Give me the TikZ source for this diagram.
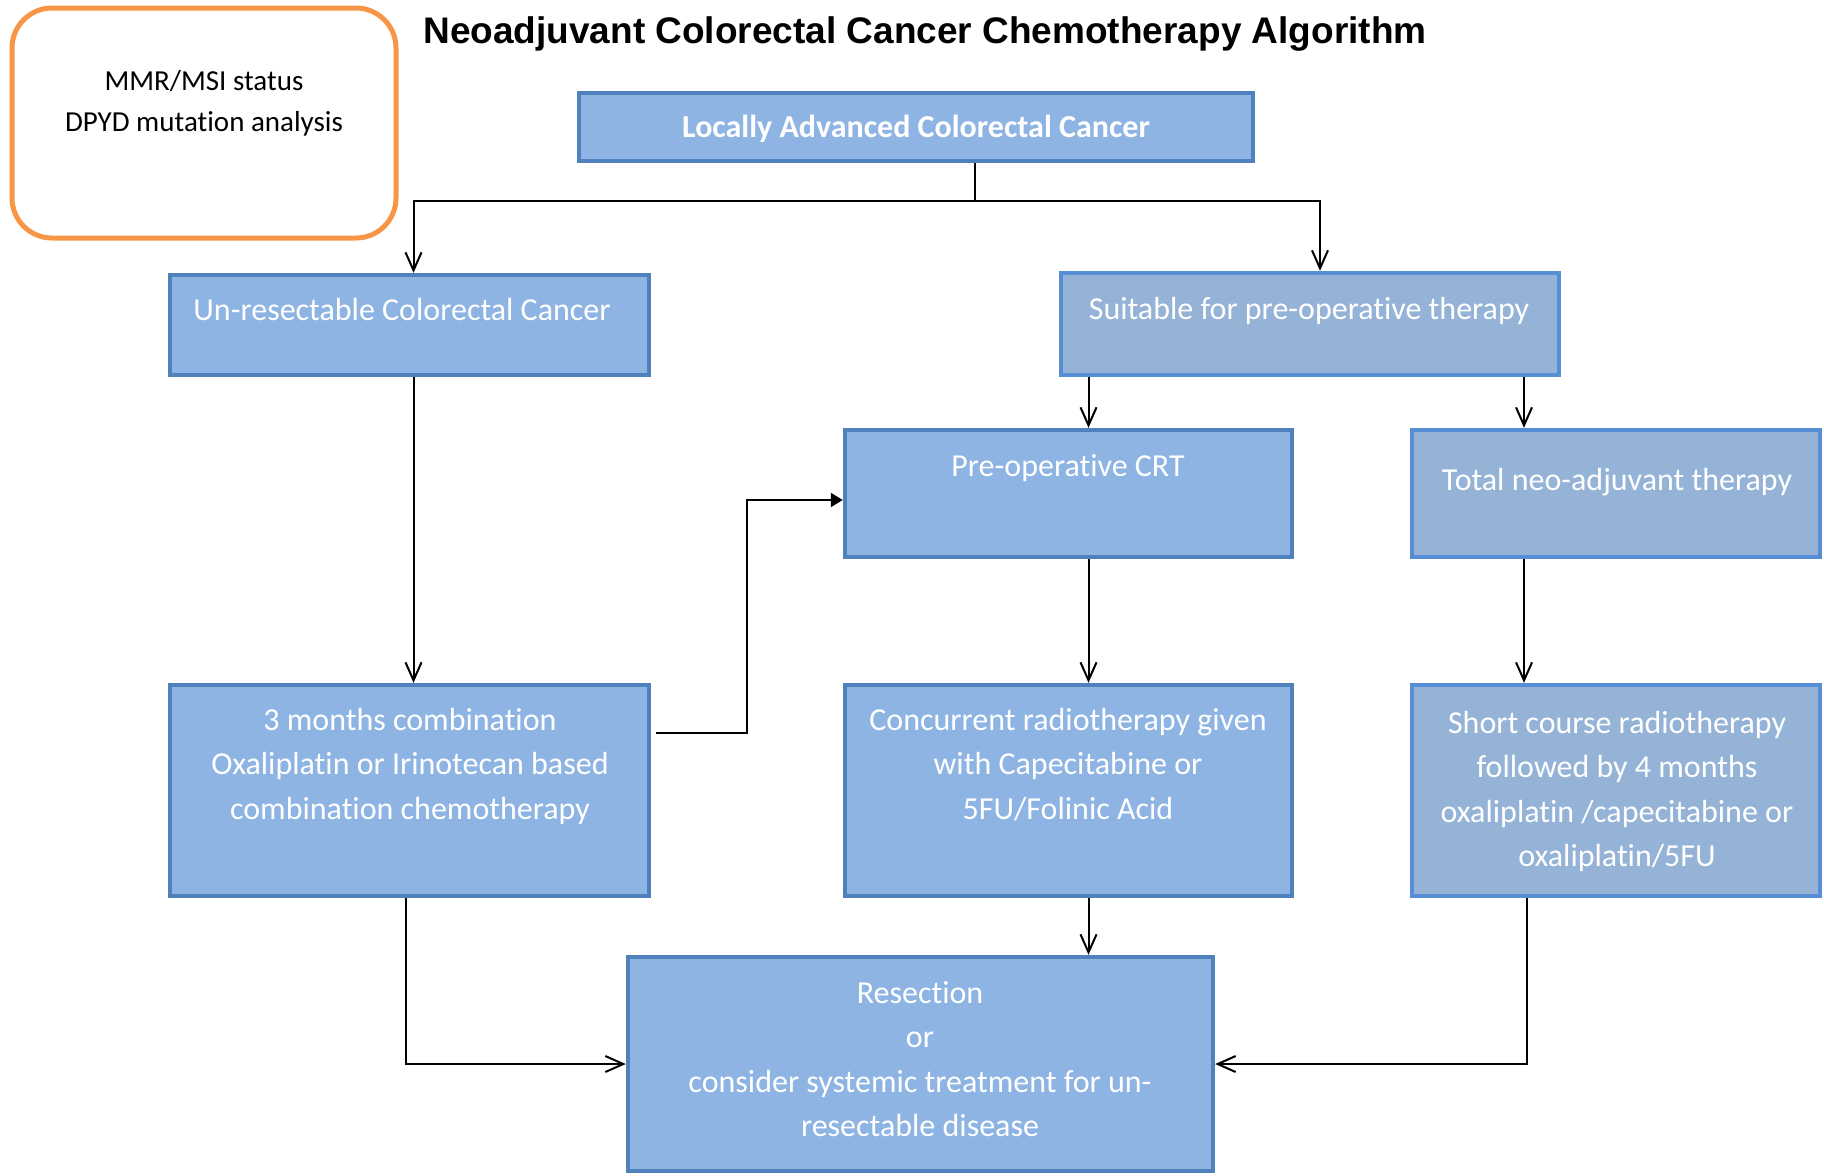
\documentclass[tikz,border=0pt]{standalone}
\usepackage{fontspec}
\setmainfont{Carlito}[Ligatures=NoCommon]
\newfontfamily\titlefont{Liberation Sans}
\usetikzlibrary{arrows.meta,calc,fit}

\definecolor{boxfill}{HTML}{8EB4E3}
\definecolor{boxedge}{HTML}{4F81BD}
\definecolor{altfill}{HTML}{95B3D7}
\definecolor{altedge}{HTML}{558ED5}
\definecolor{noteedge}{HTML}{F79646}

\newcommand\flowbox[6]{
  \node[#6, fit={(#2,#3) (#4,#5)}] (#1) {};
}

\tikzset{
  bluebox/.style={draw=boxedge, fill=boxfill, line width=2.2pt, inner sep=0pt},
  greybox/.style={draw=altedge, fill=altfill, line width=2.2pt, inner sep=0pt},
  notebox/.style={draw=noteedge, line width=2.5pt, rounded corners=20pt, inner sep=0pt},
  boxtext/.style={text=white, align=center, inner sep=0pt, font=\fontsize{16}{22.25}\selectfont},
  flow/.style={draw=black, line width=1pt, -{Straight Barb[length=9pt,width=8pt]}},
  jump/.style={draw=black, line width=1pt, -{Triangle[length=6pt,width=7pt]}}
}

\begin{document}
\begin{tikzpicture}[x=0.5pt,y=-0.5pt]
  \useasboundingbox (0,0) rectangle (1824,1175);

  \flowbox{tests}{12}{8}{396}{238}{notebox}
  \node[align=center, inner sep=0pt, font=\fontsize{14.5}{20.5}\selectfont] (tests-t) at (204,103)
    {MMR/MSI status\\DPYD mutation analysis};

  \node[inner sep=0pt, font=\titlefont\bfseries\fontsize{18.5}{22}\selectfont] (title) at (925,34)
    {Neoadjuvant Colorectal Cancer Chemotherapy Algorithm};

  % boxes
  \flowbox{top}{579}{93}{1253}{161}{bluebox}
  \flowbox{unres}{170}{275}{649}{375}{bluebox}
  \flowbox{suit}{1061}{273}{1559}{375}{greybox}
  \flowbox{preop}{845}{430}{1292}{557}{bluebox}
  \flowbox{total}{1412}{430}{1820}{557}{greybox}
  \flowbox{comb}{170}{685}{649}{896}{bluebox}
  \flowbox{conc}{845}{685}{1292}{896}{bluebox}
  \flowbox{short}{1412}{685}{1820}{896}{greybox}
  \flowbox{res}{628}{957}{1213}{1171}{bluebox}

  \node[boxtext, font=\fontsize{16}{22.25}\selectfont\bfseries] (top-t) at (916,129)
    {Locally Advanced Colorectal Cancer};
  \node[boxtext] (unres-t) at (402,309) {Un-resectable Colorectal Cancer};
  \node[boxtext] (suit-t) at (1309,311) {Suitable for pre-operative therapy};
  \node[boxtext] (preop-t) at (1068,468) {Pre-operative CRT};
  \node[boxtext] (total-t) at (1617,482) {Total neo-adjuvant therapy};
  \node[boxtext] (comb-t) at (410,766)
    {3 months combination\\Oxaliplatin or Irinotecan based\\combination chemotherapy};
  \node[boxtext] (conc-t) at (1068,764.5)
    {Concurrent radiotherapy given\\with Capecitabine or\\5FU/Folinic Acid};
  \node[boxtext] (short-t) at (1617,791.5)
    {Short course radiotherapy\\followed by 4 months\\oxaliplatin /capecitabine or\\oxaliplatin/5FU};
  \node[boxtext] (res-t) at (920,1059)
    {Resection\\or\\consider systemic treatment for un-\\resectable disease};

  % connectors
  \coordinate (split) at ($(top.south)+(59,38)$);
  \draw[line width=1pt] ([xshift=29.5pt]top.south) -- (split);
  \draw[flow] (split) -| ([xshift=2pt]unres.north);
  \draw[flow] (split) -| ([xshift=5pt]suit.north);

  \draw[flow] ([xshift=10pt]preop.north |- suit.south) -- ([xshift=10pt]preop.north);
  \draw[flow] ([xshift=-46pt]total.north |- suit.south) -- ([xshift=-46pt]total.north);

  \draw[flow] ([xshift=2pt]unres.south) -- ([xshift=2pt]comb.north);
  \draw[flow] ([xshift=10pt]preop.south) -- ([xshift=10pt]conc.north);
  \draw[flow] ([xshift=-46pt]total.south) -- ([xshift=-46pt]short.north);

  \draw[jump] ([xshift=2.5pt,yshift=29pt]comb.east) -| ($(comb.east)!0.5!(preop.west)$)
    |- ([yshift=-3.25pt]preop.west);

  \draw[flow] ([xshift=10pt]conc.south) -- ([xshift=10pt]conc.south |- res.north);
  \draw[flow] ([xshift=-2pt]comb.south) |- (res.west);
  \draw[flow] ([xshift=-44.5pt]short.south) |- (res.east);

\end{tikzpicture}
\end{document}
